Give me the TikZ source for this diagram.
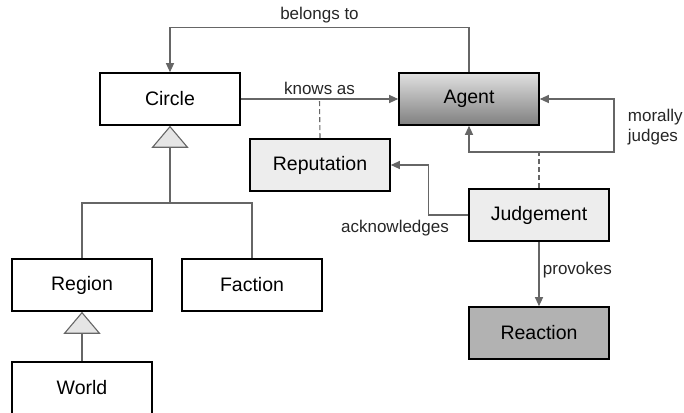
\documentclass[tikz,border=0pt]{standalone}
\usepackage{fontspec}
\setmainfont{Liberation Sans}
\usetikzlibrary{arrows.meta}
\usetikzlibrary{calc}
\tikzstyle{classbox}=[rectangle,draw=black,line width=1.6pt,minimum width=140pt,minimum height=52pt,inner sep=0pt,font=\fontsize{19.5}{22}\selectfont]
\tikzstyle{assoc} = [draw,line width=1.1pt,black!60,-{Triangle[length=9pt,width=8pt]}]
\tikzstyle{assocboth} = [draw,line width=1.1pt,black!60,{Triangle[length=9pt,width=8pt]}-{Triangle[length=9pt,width=8pt]}]
\tikzstyle{plainline} = [draw,line width=1.1pt,black!60]
\tikzstyle{dashline} = [draw,line width=1.1pt,black!60,dash pattern=on 5pt off 3pt]
\tikzstyle{gen} = [draw,line width=1.1pt,black!60,-{Triangle[length=22pt,width=37pt,fill=black!10]}]
\tikzstyle{weight} = [font=\fontsize{17}{20}\selectfont,black!85]

\begin{document}
\begin{tikzpicture}[x=1pt,y=-1pt]

  \useasboundingbox (0,0) rectangle (684,412);

  \foreach \x/\y/\name/\label/\col in {170/99/Circle/Circle/white, 320/165/Reputation/Reputation/black!7,
      539/215/Judgement/Judgement/black!7, 539/333/Reaction/Reaction/black!30,
      82/285/Region/Region/white, 252/285/Faction/Faction/white, 82/388/World/World/white}
          \node[classbox, fill=\col] (\name) at (\x, \y) {\label};

  \node[classbox, top color=black!12, bottom color=black!50] (Agent) at (469, 99) {Agent};

%  associations
  \path[assoc] (Agent.north) -- ++(0,-45) -| node[weight, pos=0.25, above] {belongs to} (Circle.north);
  \path[assoc] (Circle) -- coordinate[midway] (knows) node[weight, above] {knows as} (Agent);
  \path[dashline] (Reputation.north) -- (knows);

  \coordinate (loopr) at (614, 152);
  \path[assocboth] (Agent.east) -| node[weight, pos=0.75, right, xshift=10pt, yshift=-2pt, align=left] {morally\\judges} (loopr) -| (Agent.south);
  \path[dashline] (Judgement.north) -- (Judgement.north |- loopr);

  \path[assoc] (Judgement.west) -- ++(-40,0) |- (Reputation.east);
  \node[weight] (acklabel) at (395, 228) {acknowledges};

  \path[assoc] (Judgement) -- node[weight, right, yshift=4pt] {provokes} (Reaction);

%  generalisations
  \coordinate (join) at (170, 203);
  \path[plainline] (Region.north) |- (join) -| (Faction.north);
  \path[gen] (join) -- (Circle.south);
  \path[gen] (World.north) -- (Region.south);

\end{tikzpicture}
\end{document}
